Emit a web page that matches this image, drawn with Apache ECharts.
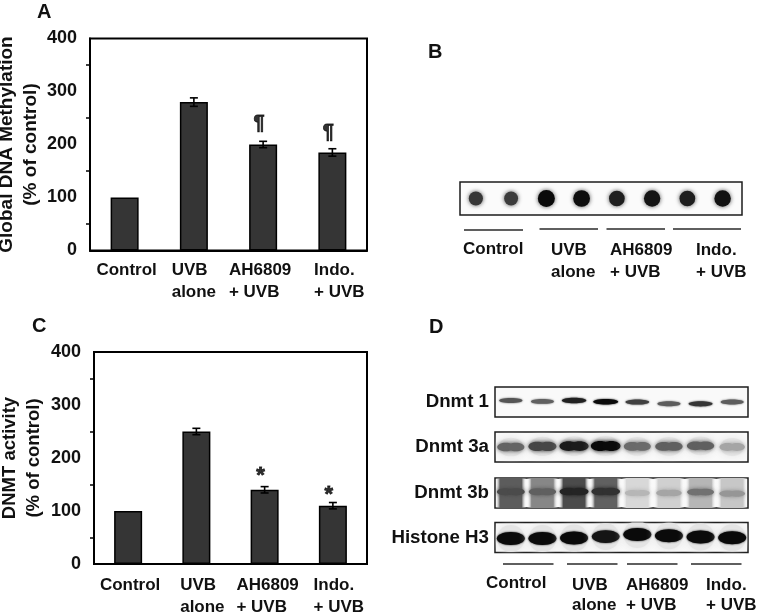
<!DOCTYPE html>
<html>
<head>
<meta charset="utf-8">
<script src="https://cdn.jsdelivr.net/npm/echarts@6/dist/echarts.min.js"></script>
<style>
  html, body { margin: 0; padding: 0; background: #fff; }
  #chart { width: 758px; height: 612px; }
</style>
</head>
<body>
<div id="chart"></div>
<script>
// bar panels A and C
const groups = ['Control', 'UVB\nalone', 'AH6809\n+ UVB', 'Indo.\n+ UVB'];
const methylation = [100, 280, 200, 185];
const methylationErr = [0, 8, 6, 7];
const methylationMark = ['', '', '¶', '¶'];
const methylationMarkAt = [null, null, 240, 222];
const activity = [100, 250, 140, 110];
const activityErr = [0, 6, 6, 6];
const activityMark = ['', '', '*', '*'];
const activityMarkAt = [null, null, 166, 130];

// dot blot B, density 0-1
const dotLanes = [1, 2, 3, 4, 5, 6, 7, 8];
const dotDensity = [0.78, 0.76, 1, 0.98, 0.9, 0.95, 0.9, 0.96];

// western blots D, lane position in frame (0-1) and density 0-1
const lanes = ['1', '2', '3', '4', '5', '6', '7', '8'];
const dnmt1At = [0.55, 0.52, 0.55, 0.51, 0.5, 0.44, 0.44, 0.5];
const dnmt1 = [0.65, 0.6, 0.9, 1, 0.75, 0.62, 0.8, 0.62];
const dnmt3aAt = [0.5, 0.52, 0.53, 0.53, 0.52, 0.52, 0.54, 0.5];
const dnmt3a = [0.58, 0.72, 0.92, 1, 0.55, 0.6, 0.6, 0.28];
const dnmt3bAt = [0.54, 0.54, 0.55, 0.55, 0.5, 0.5, 0.53, 0.48];
const dnmt3b = [0.7, 0.6, 0.88, 0.82, 0.2, 0.28, 0.52, 0.35];
const dnmt3bSmear = [0.62, 0.42, 0.7, 0.6, 0.04, 0.08, 0.2, 0.12];
const histoneAt = [0.47, 0.47, 0.48, 0.53, 0.6, 0.56, 0.52, 0.49];
const histone = [1, 1, 1, 0.95, 1, 1, 1, 1];

const FONT = '"Liberation Sans", Arial, sans-serif';
const INK = '#111';

const chart = echarts.init(document.getElementById('chart'));

function grey(d) {
  const v = Math.round(225 - 215 * d);
  return 'rgb(' + v + ',' + v + ',' + v + ')';
}

function errorBars(xi, values, errs) {
  return {
    type: 'custom',
    xAxisIndex: xi,
    yAxisIndex: xi,
    z: 5,
    data: values.map((v, i) => [i, v - errs[i], v + errs[i], errs[i]]),
    renderItem: (params, api) => {
      if (!api.value(3)) return;
      const lo = api.coord([api.value(0), api.value(1)]);
      const hi = api.coord([api.value(0), api.value(2)]);
      const st = { stroke: '#000', lineWidth: 1.6 };
      const cap = 4;
      return {
        type: 'group',
        children: [
          { type: 'line', shape: { x1: lo[0], y1: lo[1], x2: hi[0], y2: hi[1] }, style: st },
          { type: 'line', shape: { x1: lo[0] - cap, y1: lo[1], x2: lo[0] + cap, y2: lo[1] }, style: st },
          { type: 'line', shape: { x1: hi[0] - cap, y1: hi[1], x2: hi[0] + cap, y2: hi[1] }, style: st }
        ]
      };
    }
  };
}

function barPanel(xi, values, errs, marks, markAt, markSize) {
  return [
    {
      type: 'bar',
      xAxisIndex: xi,
      yAxisIndex: xi,
      data: values,
      barWidth: 28,
      itemStyle: { color: '#353535', borderColor: '#000', borderWidth: 1.5 }
    },
    errorBars(xi, values, errs),
    {
      type: 'scatter',
      xAxisIndex: xi,
      yAxisIndex: xi,
      symbolSize: 0,
      data: markAt.map((v, i) => [i, v]),
      label: {
        show: true,
        position: 'inside',
        offset: [-4, 0],
        formatter: p => marks[p.dataIndex],
        fontFamily: FONT,
        fontWeight: 'bold',
        fontSize: markSize,
        color: '#000',
        textBorderColor: '#000',
        textBorderWidth: 0.8
      }
    }
  ];
}

function barXAxis(gi, shift, margin) {
  return {
    gridIndex: gi,
    type: 'category',
    data: groups.map((g, i) => ({
      value: g,
      textStyle: { padding: [0, Math.max(-shift[i], 0) * 2, 0, Math.max(shift[i], 0) * 2] }
    })),
    axisTick: { show: false },
    axisLine: { lineStyle: { color: '#000', width: 2 } },
    axisLabel: {
      interval: 0,
      margin: margin,
      formatter: v => v.split('\n').map(s => '{a|' + s + '}').join('\n'),
      rich: {
        a: { align: 'left', fontFamily: FONT, fontWeight: 'bold', fontSize: 17, lineHeight: 22, color: INK }
      }
    }
  };
}

function barYAxis(gi, title, gap, size) {
  return {
    gridIndex: gi,
    type: 'value',
    min: 0,
    max: 400,
    interval: 100,
    name: title,
    nameLocation: 'middle',
    nameGap: gap,
    nameTextStyle: { fontFamily: FONT, fontWeight: 'bold', fontSize: size, lineHeight: 24, color: INK },
    splitLine: { show: false },
    axisLine: { show: true, onZero: false, lineStyle: { color: '#000', width: 2 } },
    axisTick: { length: 6, lineStyle: { color: '#000', width: 1.5 } },
    minorTick: { show: true, splitNumber: 2, length: 4, lineStyle: { color: '#000', width: 1.5 } },
    axisLabel: { margin: 13, fontFamily: FONT, fontWeight: 'bold', fontSize: 18, color: INK }
  };
}

// one blurred band per lane, thickness and shape set by the blot
function blotSeries(xi, at, density, opt) {
  return {
    type: 'custom',
    xAxisIndex: xi,
    yAxisIndex: xi,
    clip: true,
    data: at.map((y, i) => [i, y, density[i], opt.smear ? opt.smear[i] : 0]),
    renderItem: (params, api) => {
      const c = api.coord([api.value(0), api.value(1)]);
      const d = api.value(2);
      const smear = api.value(3);
      const col = grey(d);
      const rx = opt.rx * (0.8 + 0.2 * d);
      const ry = opt.ry * (0.7 + 0.3 * d);
      const blur = opt.blur;
      const kids = [];
      if (smear) {
        const s = grey(smear);
        kids.push({
          type: 'rect',
          shape: { x: c[0] - 15.5, y: params.coordSys.y, width: 31, height: params.coordSys.height },
          style: {
            fill: new echarts.graphic.LinearGradient(0, 0, 1, 0, [
              { offset: 0, color: 'rgba(255,255,255,0)' },
              { offset: 0.15, color: s },
              { offset: 0.85, color: s },
              { offset: 1, color: 'rgba(255,255,255,0)' }
            ])
          }
        });
      }
      if (opt.haze) {
        kids.push({
          type: 'ellipse',
          shape: { cx: c[0], cy: c[1], rx: rx, ry: ry + opt.haze },
          style: { fill: '#e4e4e4', shadowBlur: 8, shadowColor: '#e4e4e4' }
        });
      }
      if (opt.lobes) {
        [-0.4, 0.4].forEach(k => {
          kids.push({
            type: 'ellipse',
            shape: { cx: c[0] + k * rx, cy: c[1], rx: rx * 0.66, ry: ry },
            style: { fill: col, shadowBlur: blur, shadowColor: col }
          });
        });
      } else {
        kids.push({
          type: 'ellipse',
          shape: { cx: c[0], cy: c[1], rx: rx, ry: ry },
          style: { fill: col, shadowBlur: blur, shadowColor: col }
        });
      }
      return { type: 'group', children: kids };
    }
  };
}

function blotGrid(top) {
  return {
    left: 495, top: top, width: 253, height: 30, show: true, outerBoundsMode: 'none',
    backgroundColor: '#f9f9f9', borderColor: '#1c1c1c', borderWidth: 1.5
  };
}
function blotX(gi) {
  return { gridIndex: gi, type: 'category', data: lanes, show: false };
}
function blotY(gi, title) {
  return {
    gridIndex: gi, type: 'value', min: 0, max: 1,
    name: title, nameLocation: 'middle', nameRotate: 0, nameGap: 6,
    nameTextStyle: { fontFamily: FONT, fontWeight: 'bold', fontSize: 18.7, color: INK },
    axisLine: { show: false }, axisTick: { show: false }, axisLabel: { show: false }, splitLine: { show: false }
  };
}

function txt(x, y, s, size) {
  return {
    type: 'text', x: x, y: y,
    style: { text: s, fontFamily: FONT, fontWeight: 'bold', fontSize: size || 17, fill: INK, align: 'left', verticalAlign: 'middle' }
  };
}
function rule(x1, x2, y) {
  return { type: 'line', shape: { x1: x1, y1: y, x2: x2, y2: y }, style: { stroke: '#2a2a2a', lineWidth: 1.5 } };
}

chart.setOption({
  animation: false,
  backgroundColor: '#fff',
  grid: [
    { left: 90, top: 38.5, width: 277, height: 212, show: true, outerBoundsMode: 'none', borderColor: '#000', borderWidth: 2 },
    { left: 94, top: 352, width: 273, height: 212, show: true, outerBoundsMode: 'none', borderColor: '#000', borderWidth: 2 },
    { left: 460, top: 182, width: 282, height: 33, show: true, outerBoundsMode: 'none', backgroundColor: '#fbfbfb', borderColor: '#1c1c1c', borderWidth: 1.5 },
    blotGrid(387), blotGrid(432), blotGrid(478), blotGrid(522.5)
  ],
  xAxis: [
    barXAxis(0, [2, 0, -3, 7], 9),
    barXAxis(1, [2, 6, 3, 6], 10),
    { gridIndex: 2, type: 'value', min: 0.55, max: 8.55, show: false },
    blotX(3), blotX(4), blotX(5), blotX(6)
  ],
  yAxis: [
    barYAxis(0, 'Global DNA Methylation\n(% of control)', 43, 19),
    barYAxis(1, 'DNMT activity\n(% of control)', 48.5, 18.5),
    { gridIndex: 2, type: 'value', min: 0, max: 1, show: false },
    blotY(3, 'Dnmt 1'), blotY(4, 'Dnmt 3a'), blotY(5, 'Dnmt 3b'), blotY(6, 'Histone H3')
  ],
  series: [
    ...barPanel(0, methylation, methylationErr, methylationMark, methylationMarkAt, 20),
    ...barPanel(1, activity, activityErr, activityMark, activityMarkAt, 22),
    {
      type: 'scatter',
      xAxisIndex: 2,
      yAxisIndex: 2,
      data: dotLanes.map((l, i) => [l, 0.5, dotDensity[i]]),
      symbolSize: v => 4 + 13 * v[2],
      itemStyle: {
        opacity: 1,
        color: p => grey(p.value[2] * 0.95 + 0.05),
        shadowBlur: 4,
        shadowColor: 'rgba(40,40,40,0.8)'
      }
    },
    blotSeries(3, dnmt1At, dnmt1, { rx: 12.5, ry: 2.8, blur: 2 }),
    blotSeries(4, dnmt3aAt, dnmt3a, { rx: 14, ry: 5, blur: 4, lobes: true, haze: 5 }),
    blotSeries(5, dnmt3bAt, dnmt3b, { rx: 14, ry: 4, blur: 4, lobes: true, smear: dnmt3bSmear }),
    blotSeries(6, histoneAt, histone, { rx: 14, ry: 6.5, blur: 2, haze: 7 })
  ],
  graphic: {
    elements: [
      txt(37, 12, 'A', 20), txt(428, 52, 'B', 20), txt(32, 326, 'C', 20), txt(429, 327, 'D', 20),
      rule(464, 523, 230), rule(539.5, 598, 229), rule(606.5, 665, 229), rule(673, 741, 229),
      txt(463, 249, 'Control'), txt(551, 250, 'UVB'), txt(551, 272, 'alone'),
      txt(610, 250, 'AH6809'), txt(610, 272, '+ UVB'), txt(696, 250, 'Indo.'), txt(696, 272, '+ UVB'),
      rule(503, 553.5, 564), rule(567, 617.5, 564), rule(627, 677.5, 564), rule(691, 741.5, 564),
      txt(486, 583, 'Control'), txt(572, 585, 'UVB'), txt(572, 605, 'alone'),
      txt(626, 585, 'AH6809'), txt(626, 605, '+ UVB'), txt(706, 585, 'Indo.'), txt(706, 605, '+ UVB')
    ]
  }
});
</script>
</body>
</html>
